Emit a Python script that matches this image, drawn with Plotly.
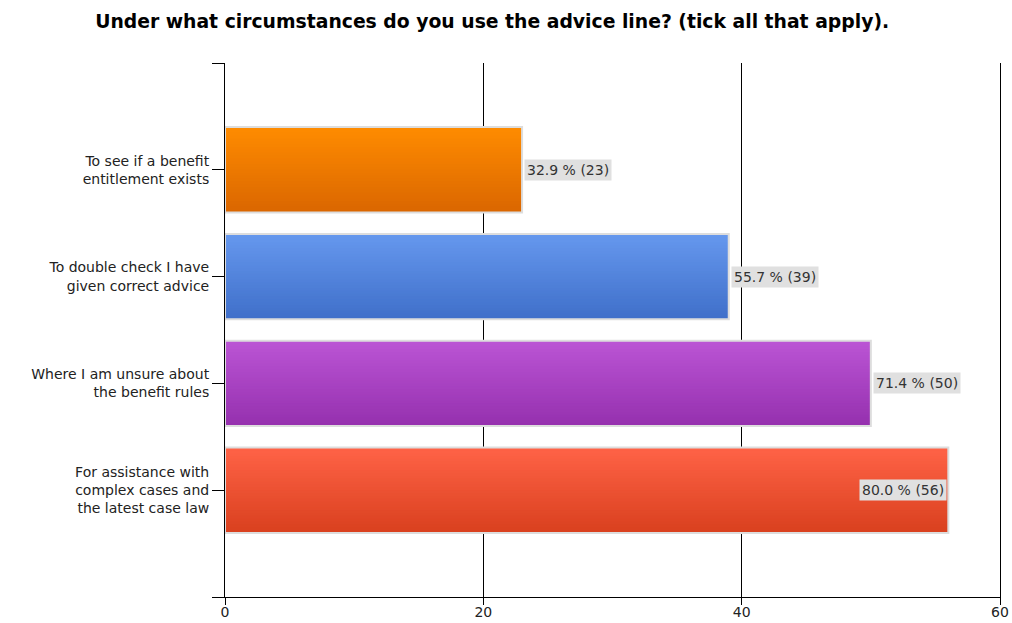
import plotly.graph_objects as go

# Survey responses
categories = [
    "To see if a benefit<br>entitlement exists",
    "To double check I have<br>given correct advice",
    "Where I am unsure about<br>the benefit rules",
    "For assistance with<br>complex cases and<br>the latest case law",
]
counts = [23, 39, 50, 56]
percents = [32.9, 55.7, 71.4, 80.0]
# gradient colours per bar: (top, bottom)
top_colors = ["#FF8C00", "#6698EE", "#BB55D5", "#FF6347"]
bottom_colors = ["#DA6600", "#3F6FC9", "#9530AE", "#D9401E"]
x_ticks = [0, 20, 40, 60]

FONT = "DejaVu Sans, Verdana, sans-serif"
positions = list(range(len(categories)))
BAR_W = 0.8
N_STRIPS = 30


def hex_to_rgb(h):
    h = h.lstrip("#")
    return tuple(int(h[i:i + 2], 16) for i in (0, 2, 4))


def mix(c1, c2, t):
    a, b = hex_to_rgb(c1), hex_to_rgb(c2)
    return "rgb(%d,%d,%d)" % tuple(round(a[k] + (b[k] - a[k]) * t) for k in range(3))


fig = go.Figure()

# vertical gradient in each bar, built from overlapping horizontal slices
strip_w = BAR_W / N_STRIPS
for i in range(N_STRIPS):
    t = (i + 0.5) / N_STRIPS
    w = strip_w * (2 if i < N_STRIPS - 1 else 1)
    fig.add_trace(go.Bar(
        x=counts,
        y=positions,
        orientation="h",
        width=w,
        offset=-BAR_W / 2 + i * strip_w,
        marker=dict(color=[mix(a, b, t) for a, b in zip(top_colors, bottom_colors)],
                    line=dict(width=0)),
        hoverinfo="skip",
        showlegend=False,
    ))

# light outline around each bar
fig.add_trace(go.Bar(
    x=counts,
    y=positions,
    orientation="h",
    width=BAR_W,
    marker=dict(color="rgba(0,0,0,0)", line=dict(color="#DDDDDD", width=2)),
    showlegend=False,
))

# value labels
for pos, c, p in zip(positions, counts, percents):
    inside = c > 52
    fig.add_annotation(
        x=c, y=pos, xref="x", yref="y",
        text="%.1f %% (%d)" % (p, c),
        showarrow=False,
        xanchor="right" if inside else "left",
        xshift=-1 if inside else 2,
        bgcolor="#E0E0E0",
        borderpad=2,
        font=dict(family=FONT, size=14, color="#333333"),
    )

fig.update_layout(
    width=1012, height=623,
    margin=dict(l=225, r=12, t=63, b=26),
    paper_bgcolor="white",
    plot_bgcolor="white",
    barmode="overlay",
    bargap=0.2,
    title=dict(
        text="<b>Under what circumstances do you use the advice line? (tick all that apply).</b>",
        font=dict(family=FONT, size=18.8, color="#000000"),
        xref="container", yref="container",
        x=0.094, xanchor="left", y=0.965, yanchor="middle",
    ),
    xaxis=dict(
        range=[0, 60],
        tickvals=x_ticks,
        ticks="outside", ticklen=7, tickcolor="#000000",
        ticklabelstandoff=-5,
        showline=True, linecolor="#000000", linewidth=1,
        showgrid=True, gridcolor="#000000", gridwidth=1,
        zeroline=False, automargin=False,
        tickfont=dict(family=FONT, size=14, color="#222222"),
    ),
    yaxis=dict(
        range=[4, -1],
        tickvals=[-1] + positions + [4],
        ticktext=[""] + categories + [""],
        ticks="outside", ticklen=12, tickcolor="#000000",
        showline=True, linecolor="#000000", linewidth=1, mirror=True,
        showgrid=False, zeroline=False, automargin=False,
        tickfont=dict(family=FONT, size=14, color="#222222"),
    ),
)

fig.write_html("out.html")
